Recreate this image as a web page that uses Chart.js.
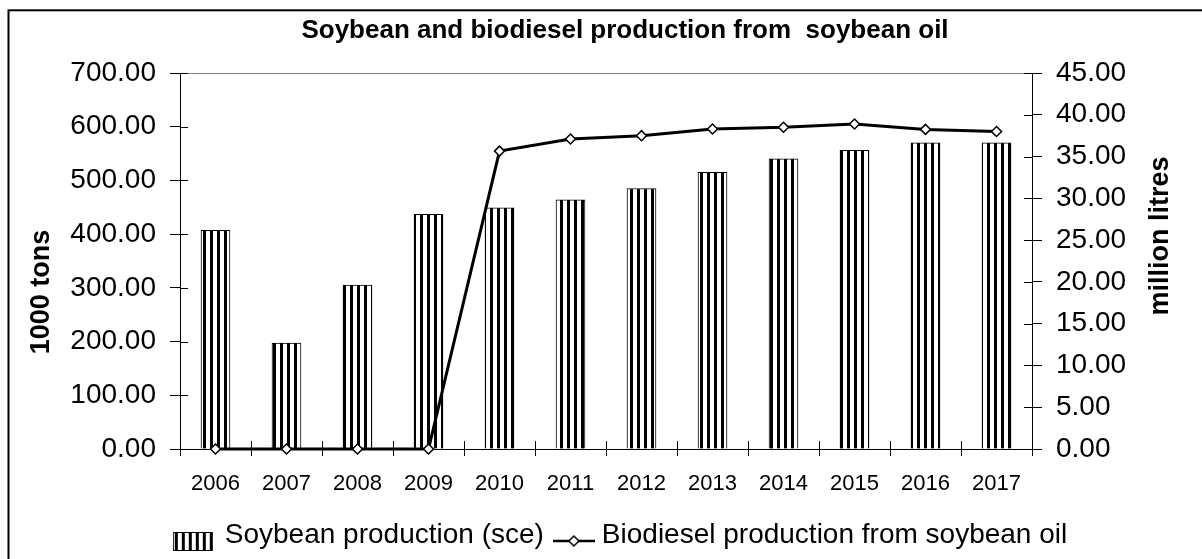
<!DOCTYPE html>
<html>
<head>
<meta charset="utf-8">
<script src="https://cdn.jsdelivr.net/npm/chart.js@4.4.1/dist/chart.umd.min.js"></script>
<style>
  html, body { margin: 0; padding: 0; background: #fff; }
  #wrap { width: 1202px; height: 559px; }
  canvas { display: block; }
</style>
</head>
<body>
<div id="wrap"><canvas id="chart" width="1202" height="559"></canvas></div>
<script>
// values
const years = ["2006", "2007", "2008", "2009", "2010", "2011", "2012", "2013", "2014", "2015", "2016", "2017"];
const soybean = [407, 197, 305, 437, 449, 464, 485, 515, 540, 556, 570, 570];   // 1000 tons
const biodiesel = [0, 0, 0, 0, 35.65, 37.1, 37.5, 38.3, 38.5, 38.9, 38.25, 38.0]; // million litres

const leftMax = 700, leftStep = 100;
const rightMax = 45, rightStep = 5;

const FONT = "'Liberation Sans', Arial, sans-serif";

// vertical stripe fill for the bars
function stripePattern(ctx) {
  const c = document.createElement("canvas");
  c.width = 7; c.height = 4;
  const g = c.getContext("2d");
  g.fillStyle = "#fff"; g.fillRect(0, 0, 7, 4);
  g.fillStyle = "#000"; g.fillRect(0, 0, 3, 4);
  return ctx.createPattern(c, "repeat");
}

// legend icons
function barIcon() {
  const c = document.createElement("canvas");
  c.width = 48; c.height = 32;
  const g = c.getContext("2d");
  g.fillStyle = "#fff"; g.fillRect(0, 13, 39, 19);
  g.fillStyle = "#000";
  for (let x = 2; x < 39; x += 7) g.fillRect(x, 13, 3, 19);
  g.strokeStyle = "#000"; g.lineWidth = 1;
  g.strokeRect(0.5, 13.5, 38, 18);
  return c;
}

function lineIcon() {
  const c = document.createElement("canvas");
  c.width = 42; c.height = 32;
  const g = c.getContext("2d");
  g.strokeStyle = "#000"; g.lineWidth = 2.5;
  g.beginPath(); g.moveTo(0, 22); g.lineTo(42, 22); g.stroke();
  g.fillStyle = "#fff"; g.lineWidth = 1.5;
  g.beginPath();
  g.moveTo(21, 17); g.lineTo(26, 22); g.lineTo(21, 27); g.lineTo(16, 22); g.closePath();
  g.fill(); g.stroke();
  return c;
}

const canvas = document.getElementById("chart");
const pattern = stripePattern(canvas.getContext("2d"));

function axisTitle(ctx, text, x, y) {
  ctx.save();
  ctx.fillStyle = "#000";
  ctx.font = "bold 27px " + FONT;
  ctx.textAlign = "center";
  ctx.textBaseline = "middle";
  ctx.translate(x, y);
  ctx.rotate(-Math.PI / 2);
  ctx.fillText(text, 0, 0);
  ctx.restore();
}

const frame = {
  id: "frame",
  beforeDraw(chart) {
    const ctx = chart.ctx;
    ctx.save();
    ctx.fillStyle = "#fff";
    ctx.fillRect(0, 0, chart.width, chart.height);
    ctx.strokeStyle = "#000";
    ctx.lineWidth = 2;
    ctx.strokeRect(8.5, 10.3, chart.width + 20, chart.height + 20);
    ctx.restore();
  },
  afterDraw(chart) {
    const ctx = chart.ctx;
    const a = chart.chartArea;
    const y = chart.scales.y, y1 = chart.scales.y1, x = chart.scales.x;
    ctx.save();
    // top edge of plot area
    ctx.strokeStyle = "#808080";
    ctx.lineWidth = 1;
    ctx.beginPath(); ctx.moveTo(a.left, a.top + 0.5); ctx.lineTo(a.right, a.top + 0.5); ctx.stroke();
    // inner halves of the tick marks
    ctx.strokeStyle = "#000";
    ctx.beginPath();
    y.ticks.forEach(t => {
      const p = Math.round(y.getPixelForValue(t.value)) + 0.5;
      ctx.moveTo(a.left, p); ctx.lineTo(a.left + 8, p);
    });
    y1.ticks.forEach(t => {
      const p = Math.round(y1.getPixelForValue(t.value)) + 0.5;
      ctx.moveTo(a.right - 8, p); ctx.lineTo(a.right, p);
    });
    for (let i = 0; i <= years.length; i++) {
      const p = Math.round(x.getPixelForValue(i - 0.5)) + 0.5;
      ctx.moveTo(p, a.bottom); ctx.lineTo(p, a.bottom - 8);
    }
    ctx.stroke();
    ctx.restore();
    axisTitle(ctx, "1000 tons", 42, 292);
    axisTitle(ctx, "million litres", 1161, 236);
  }
};

new Chart(canvas, {
  data: {
    labels: years,
    datasets: [
      {
        type: "line",
        label: "Biodiesel production from soybean oil",
        data: biodiesel,
        yAxisID: "y1",
        borderColor: "#000",
        borderWidth: 3,
        tension: 0,
        pointStyle: "rectRot",
        pointRadius: 5,
        pointBackgroundColor: "#fff",
        pointBorderColor: "#000",
        pointBorderWidth: 1.5,
        clip: false,
        order: 0
      },
      {
        type: "bar",
        label: "Soybean production (sce)",
        data: soybean,
        yAxisID: "y",
        backgroundColor: pattern,
        borderColor: "#000",
        borderWidth: 1,
        barThickness: 29,
        order: 1
      }
    ]
  },
  options: {
    responsive: false,
    animation: false,
    layout: { padding: { left: 48, right: 0, top: 0, bottom: 0 } },
    plugins: {
      tooltip: { enabled: false },
      title: {
        display: true,
        text: "Soybean and biodiesel production from  soybean oil",
        color: "#000",
        font: { family: FONT, size: 26, weight: "bold" },
        padding: { top: 15.4, bottom: 26.4 }
      },
      legend: {
        position: "bottom",
        labels: {
          usePointStyle: true,
          pointStyleWidth: 28,
          padding: 16,
          color: "#000",
          font: { family: FONT, size: 28 },
          generateLabels: () => [
            { text: "Soybean production (sce)", pointStyle: barIcon(), fontColor: "#000", lineWidth: 0, strokeStyle: "rgba(0,0,0,0)", fillStyle: "rgba(0,0,0,0)", datasetIndex: 1, hidden: false },
            { text: "Biodiesel production from soybean oil", pointStyle: lineIcon(), fontColor: "#000", lineWidth: 0, strokeStyle: "rgba(0,0,0,0)", fillStyle: "rgba(0,0,0,0)", datasetIndex: 0, hidden: false }
          ]
        }
      }
    },
    scales: {
      x: {
        grid: { offset: true, drawOnChartArea: false, color: "#000", tickLength: 7 },
        border: { color: "#000", width: 1 },
        ticks: { color: "#000", font: { family: FONT, size: 22 }, padding: 15, maxRotation: 0 },
        afterFit: s => { s.height = 56; }
      },
      y: {
        position: "left",
        min: 0,
        max: leftMax,
        grid: { drawOnChartArea: false, color: "#000", tickLength: 10 },
        border: { color: "#000", width: 1 },
        ticks: { stepSize: leftStep, color: "#000", font: { family: FONT, size: 28 }, padding: 14, callback: v => v.toFixed(2) },
        afterFit: s => { s.width = 132; }
      },
      y1: {
        position: "right",
        min: 0,
        max: rightMax,
        grid: { drawOnChartArea: false, color: "#000", tickLength: 10 },
        border: { color: "#000", width: 1 },
        ticks: { stepSize: rightStep, color: "#000", font: { family: FONT, size: 28 }, padding: 14, callback: v => v.toFixed(2) },
        afterFit: s => { s.width = 170; }
      }
    }
  },
  plugins: [frame]
});
</script>
</body>
</html>
